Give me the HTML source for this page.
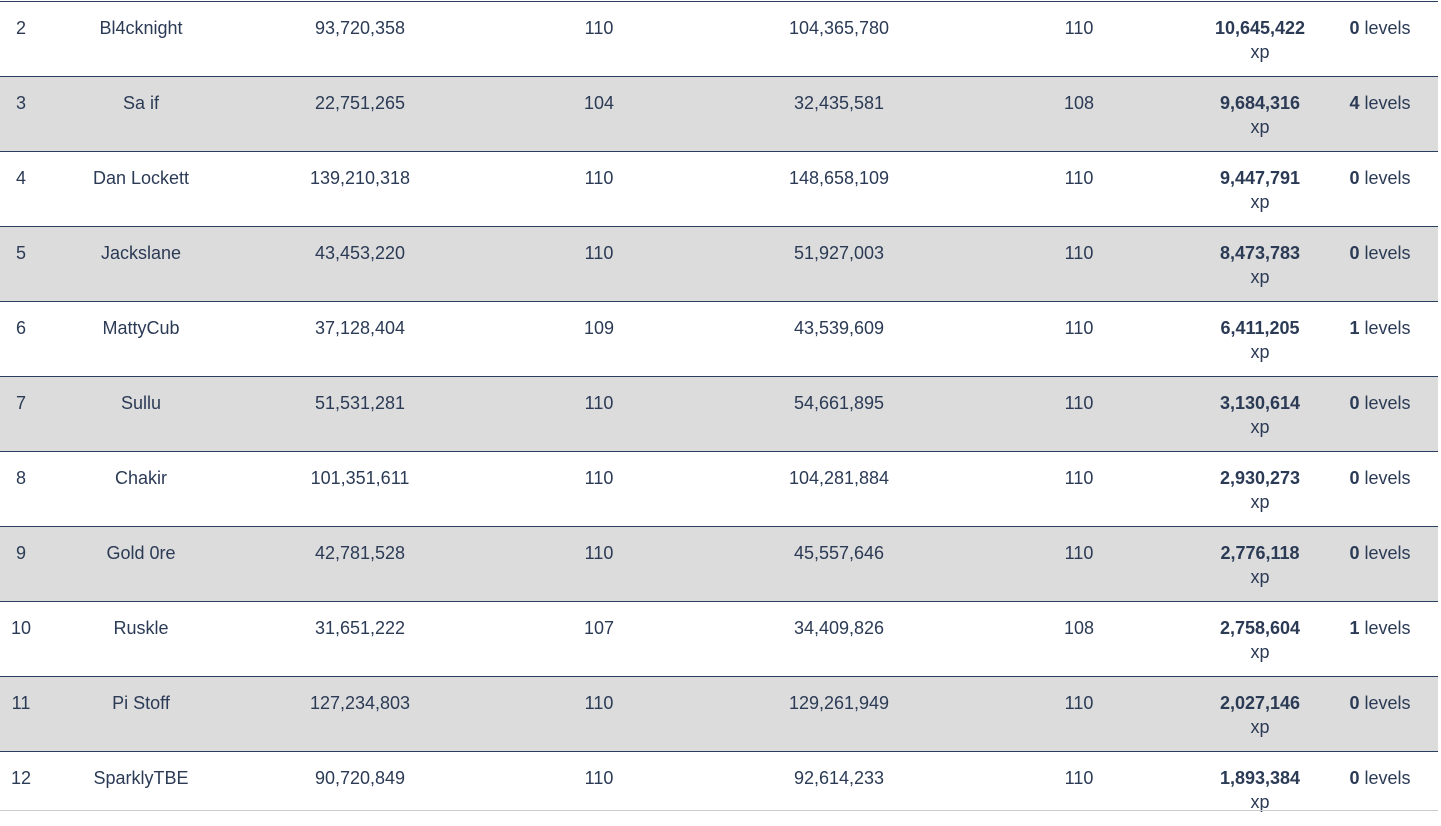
<!DOCTYPE html>
<html><head><style>
body{margin:0;width:1441px;height:813px;overflow:hidden;background:#fff;font-family:"Liberation Sans",sans-serif;color:#2b3a55;font-size:18px;}
.r{position:absolute;left:0;width:1438px;height:74px;border-top:1px solid #2c3e5e;}
.g{background:#dcdcdc;}
.c{position:absolute;top:14px;transform:translateX(-50%);white-space:nowrap;line-height:24px;}
.x{text-align:center}
b{font-weight:bold}
</style></head><body>
<div id="t"></div>
<script>
var d=[[2,"Bl4cknight","93,720,358",110,"104,365,780",110,"10,645,422",0],
[3,"Sa if","22,751,265",104,"32,435,581",108,"9,684,316",4],
[4,"Dan Lockett","139,210,318",110,"148,658,109",110,"9,447,791",0],
[5,"Jackslane","43,453,220",110,"51,927,003",110,"8,473,783",0],
[6,"MattyCub","37,128,404",109,"43,539,609",110,"6,411,205",1],
[7,"Sullu","51,531,281",110,"54,661,895",110,"3,130,614",0],
[8,"Chakir","101,351,611",110,"104,281,884",110,"2,930,273",0],
[9,"Gold 0re","42,781,528",110,"45,557,646",110,"2,776,118",0],
[10,"Ruskle","31,651,222",107,"34,409,826",108,"2,758,604",1],
[11,"Pi Stoff","127,234,803",110,"129,261,949",110,"2,027,146",0],
[12,"SparklyTBE","90,720,849",110,"92,614,233",110,"1,893,384",0]];
var xs=[21,141,360,599,839,1079,1260,1380],h="";
d.forEach(function(r,i){
h+='<div class="r'+(i%2?' g':'')+'" style="top:'+(1+i*75)+'px">';
for(var k=0;k<6;k++)h+='<div class="c" style="left:'+xs[k]+'px">'+r[k]+'</div>';
h+='<div class="c x" style="left:1260px"><b>'+r[6]+'</b><br>xp</div>';
h+='<div class="c" style="left:1380px"><b>'+r[7]+'</b> levels</div></div>';
});
h+='<div style="position:absolute;left:0;top:810px;width:1438px;border-top:1px solid #ccc"></div>';
document.getElementById("t").innerHTML=h;
</script>
</body></html>
